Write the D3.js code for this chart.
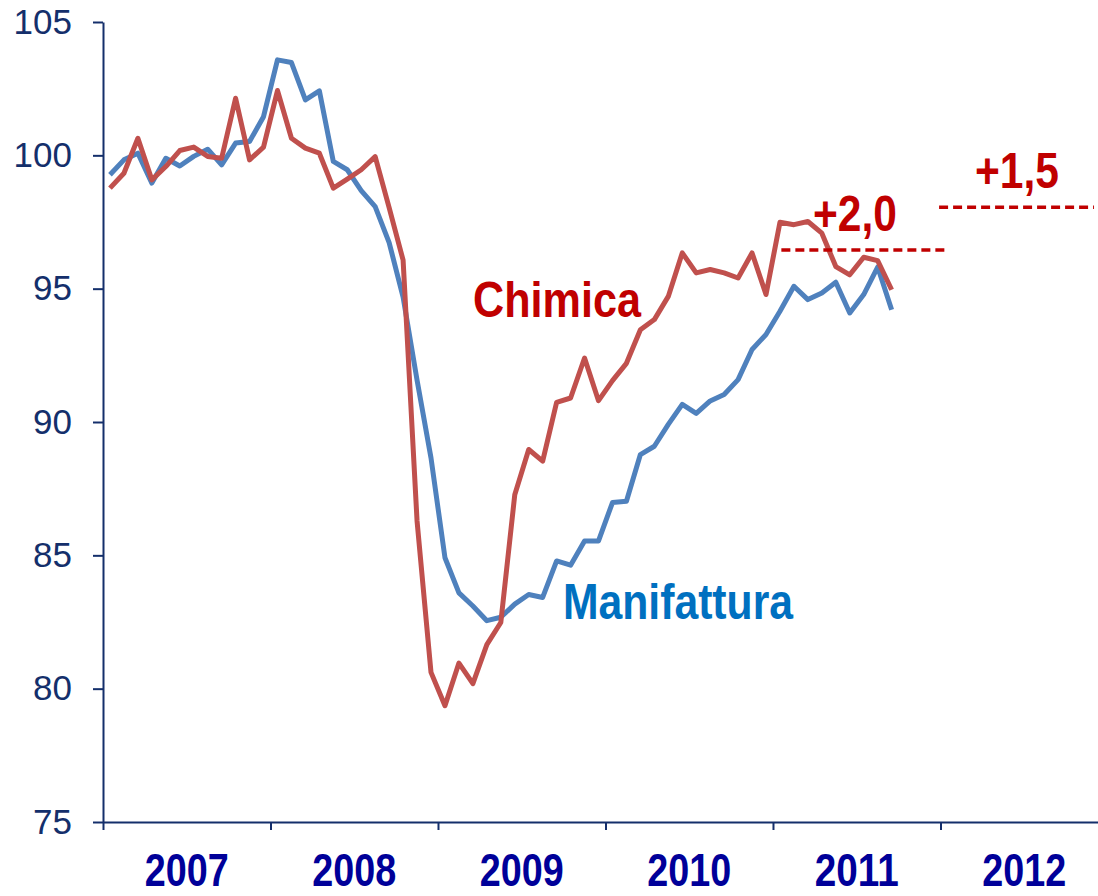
<!DOCTYPE html>
<html>
<head>
<meta charset="utf-8">
<script src="https://cdn.jsdelivr.net/npm/d3@7"></script>
<style>
  body { margin: 0; background: #fff; }
  svg { display: block; }
</style>
</head>
<body>
<div id="plot"></div>
<script>
const W = 1098, H = 896;
const margin = { top: 22, left: 103, bottom: 74 };

// monthly index, Jan 2007 .. Sep 2011
const years = ["2007", "2008", "2009", "2010", "2011", "2012"];
const yTicks = [75, 80, 85, 90, 95, 100, 105];

const manifattura = [
  99.27, 99.83, 100.08, 98.96, 99.89, 99.6, 99.96, 100.23, 99.64, 100.46, 100.52, 101.45,
  103.58, 103.48, 102.08, 102.42, 99.77, 99.46, 98.68, 98.08, 96.73, 94.68, 91.57, 88.65,
  84.91, 83.59, 83.1, 82.55, 82.68, 83.17, 83.53, 83.42, 84.79, 84.63, 85.54, 85.54,
  86.98, 87.03, 88.78, 89.09, 89.91, 90.66, 90.32, 90.79, 91.03, 91.59, 92.72, 93.28,
  94.15, 95.09, 94.59, 94.84, 95.24, 94.09, 94.78, 95.81, 94.21
];
const chimica = [
  98.77, 99.33, 100.64, 99.08, 99.58, 100.18, 100.31, 99.96, 99.89, 102.14, 99.83, 100.31,
  102.43, 100.64, 100.27, 100.08, 98.77, 99.11, 99.46, 99.95, 98.04, 96.07, 86.29, 80.61,
  79.36, 80.96, 80.19, 81.65, 82.48, 87.27, 88.97, 88.53, 90.74, 90.9, 92.4, 90.8,
  91.55, 92.2, 93.46, 93.84, 94.71, 96.34, 95.59, 95.72, 95.59, 95.4, 96.34, 94.78,
  97.49, 97.4, 97.52, 97.08, 95.83, 95.52, 96.18, 96.05, 94.96
];

// forecast levels (dashed), in month units
const fcLabel = ["+2,0", "+1,5"];
const fcValue = [96.45, 98.05];
const fcFrom = [48.6, 59.9];
const fcTo = [60.5, 71.0];

const navy = "#142f6b";
const blue = "#4f81bd", red = "#c0504d";

const x = d3.scaleLinear().domain([0, 72]).range([margin.left, margin.left + 72 * 13.958]);
const y = d3.scaleLinear().domain([75, 105]).range([H - margin.bottom, margin.top]);

const svg = d3.select("#plot").append("svg")
  .attr("width", W).attr("height", H);

// axes
const gy = svg.append("g")
  .attr("transform", `translate(${margin.left},0)`)
  .call(d3.axisLeft(y).tickValues(yTicks).tickSize(10).tickSizeOuter(0).tickPadding(21));
gy.selectAll("path, line").attr("stroke", navy).attr("stroke-width", 2);
gy.selectAll("text")
  .attr("fill", navy)
  .style("font", "35px 'Liberation Sans', Arial, sans-serif");

const gx = svg.append("g")
  .attr("transform", `translate(0,${H - margin.bottom})`)
  .call(d3.axisBottom(x).tickValues(d3.range(0, 72, 12)).tickFormat("").tickSize(8).tickSizeOuter(0));
gx.selectAll("path, line").attr("stroke", navy).attr("stroke-width", 2);

svg.append("g").selectAll("text")
  .data(years)
  .join("text")
  .attr("x", (d, i) => x(i * 12 + 6) - 42)
  .attr("y", 886)
  .attr("textLength", 84)
  .attr("lengthAdjust", "spacingAndGlyphs")
  .attr("fill", "#000099")
  .style("font", "bold 46px 'Liberation Sans', Arial, sans-serif")
  .text(d => d);

// series
const line = d3.line()
  .x((d, i) => x(i + 0.5))
  .y(d => y(d));

[[manifattura, blue], [chimica, red]].forEach(([vals, col]) => {
  svg.append("path")
    .datum(vals)
    .attr("fill", "none")
    .attr("stroke", col)
    .attr("stroke-width", 5)
    .attr("stroke-linejoin", "round")
    .attr("d", line);
});

// dashed forecast levels
svg.append("g").selectAll("line")
  .data(fcValue)
  .join("line")
  .attr("x1", (d, i) => x(fcFrom[i]))
  .attr("x2", (d, i) => x(fcTo[i]))
  .attr("y1", d => y(d))
  .attr("y2", d => y(d))
  .attr("stroke", "#c00000")
  .attr("stroke-width", 3.5)
  .attr("stroke-dasharray", "9,5");

const labelFont = "bold 50px 'Liberation Sans', Arial, sans-serif";
const labels = [
  { text: "Chimica", x: 473, y: 317, w: 168, color: "#c00000" },
  { text: "Manifattura", x: 563, y: 619, w: 230, color: "#0070c0" },
  { text: fcLabel[0], x: 813, y: 231, w: 84, color: "#c00000" },
  { text: fcLabel[1], x: 975, y: 188, w: 84, color: "#c00000" }
];

svg.append("g").selectAll("text")
  .data(labels)
  .join("text")
  .attr("x", d => d.x)
  .attr("y", d => d.y)
  .attr("textLength", d => d.w)
  .attr("lengthAdjust", "spacingAndGlyphs")
  .attr("fill", d => d.color)
  .style("font", labelFont)
  .text(d => d.text);
</script>
</body>
</html>
